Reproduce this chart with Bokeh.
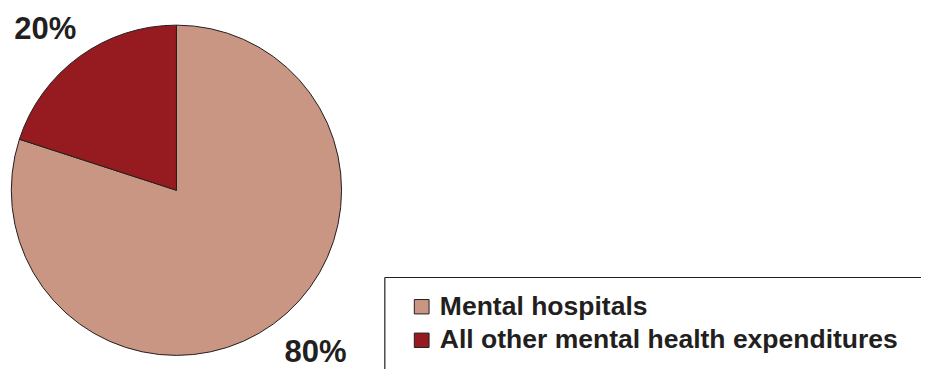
import math
from bokeh.plotting import figure
from bokeh.models import Range1d, ColumnDataSource
from bokeh.core.properties import value
from bokeh.embed import file_html
from bokeh.resources import INLINE

# ---- data ----
categories = ["Mental hospitals", "All other mental health expenditures"]
shares = [80, 20]
colors = ["#C99684", "#961B20"]
pct_labels = ["80%", "20%"]

W, H = 921, 369
RW, RH = 937, 385
# data coords follow the reference picture: x = ref pixel x, y = RH - ref pixel y
p = figure(width=W, height=H, output_backend="svg", toolbar_location=None,
           x_range=Range1d(0, RW), y_range=Range1d(0, RH),
           min_border=0, outline_line_color=None)
p.axis.visible = False
p.grid.visible = False
p.background_fill_color = "white"
p.border_fill_color = "white"

cx, cy, r = 179, RH - 198, 168
total = sum(shares)
start_red = math.pi / 2
end_red = start_red + 2 * math.pi * shares[1] / total
starts = [end_red, start_red]
ends = [start_red + 2 * math.pi, end_red]

src = ColumnDataSource(dict(x=[cx, cx], y=[cy, cy], start=starts, end=ends,
                            color=colors, cat=categories))
p.wedge(x="x", y="y", radius=r, start_angle="start", end_angle="end",
        fill_color="color", line_color="#231F20", line_width=1, source=src)

font = value("Liberation Sans")
# percentage labels (y = vertical middle of the digits)
p.text(x=[14], y=[RH - 29.5], text=[pct_labels[1]], text_font=font,
       text_font_style="bold", text_font_size="31px", text_color="#231F20",
       text_baseline="middle", text_align="left")
p.text(x=[289], y=[RH - 366], text=[pct_labels[0]], text_font=font,
       text_font_style="bold", text_font_size="31px", text_color="#231F20",
       text_baseline="middle", text_align="left")

# legend box (top and left edges visible, runs off the picture)
bx, by = 391, RH - 289
p.segment(x0=[bx, bx], y0=[by, by], x1=[RW, bx], y1=[by, 0],
          line_color="#231F20", line_width=1.2)

# legend entries
leg_y = [RH - 319.5, RH - 354.5]
p.rect(x=[428.5, 428.5], y=leg_y, width=15, height=15, fill_color=colors,
       line_color="#231F20", line_width=1)
p.text(x=[447, 447], y=[RH - 319, RH - 353.5], text=categories,
       text_font=font, text_font_style="bold",
       text_font_size="26.5px", text_color="#231F20",
       text_baseline="middle", text_align="left")

open("out.html", "w").write(file_html(p, INLINE))
